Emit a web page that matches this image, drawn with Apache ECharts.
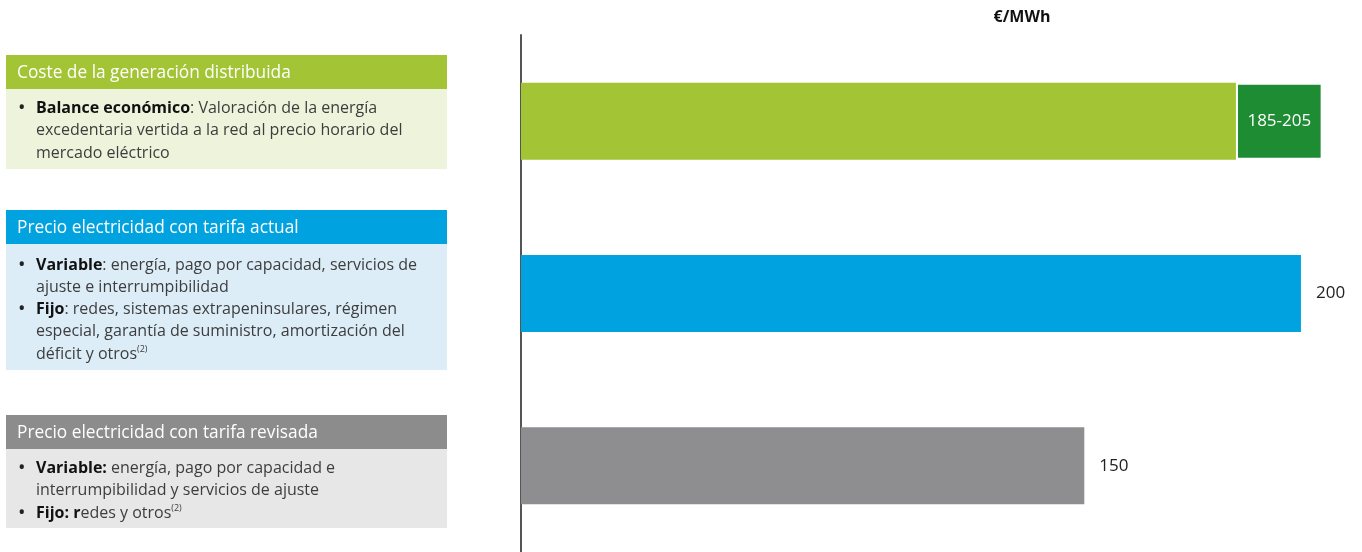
<!DOCTYPE html>
<html><head><meta charset="utf-8">
<script src="https://cdn.jsdelivr.net/npm/echarts@6/dist/echarts.min.js"></script>
<style>html,body{margin:0;padding:0;background:#fff}#c{width:1362px;height:552px}</style>
</head><body><div id="c"></div>
<script>
// ---- data ----
const categories = ['Coste de la generación distribuida', 'Precio electricidad con tarifa actual', 'Precio electricidad con tarifa revisada'];
const baseValues = [185, 200, 150];
const rangeValues = [20, '-', '-'];          // 185 -> 205 range extension
const valueLabels = ['185-205', '200', '150'];
const unitLabel = '€/MWh';
const panelLines = [
  [[true, '{b|Balance económico}: Valoración de la energía'], [false, 'excedentaria vertida a la red al precio horario del'], [false, 'mercado eléctrico']],
  [[true, '{b|Variable}: energía, pago por capacidad, servicios de'], [false, 'ajuste e interrumpibilidad'], [true, '{b|Fijo}: redes, sistemas extrapeninsulares, régimen'], [false, 'especial, garantía de suministro, amortización del'], [false, 'déficit y otros{s|(2)}']],
  [[true, '{b|Variable:} energía, pago por capacidad e'], [false, 'interrumpibilidad y servicios de ajuste'], [true, '{b|Fijo:} {b|r}edes y otros{s|(2)}']]
];

// ---- styles / layout ----
const FONT = '"Open Sans", "Noto Sans", sans-serif';
const barColors = ['#a3c535', '#00a3df', '#8e8e91'];
const rangeColor = '#1e8c33';
const headColors = ['#a3c535', '#00a3df', '#8c8c8c'];
const bodyColors = ['#eef3dc', '#dcedf8', '#e8e7e8'];
const panelGeom = [
  {top: 55, head: 34, bottom: 169, lineY: 108.5},
  {top: 210, head: 34, bottom: 370, lineY: 265},
  {top: 415, head: 34, bottom: 528, lineY: 468.5}
];
const LH = 22.3;
const BODY_FS = 16;
const HEAD_FS = 17.3;

const graphics = [];
panelGeom.forEach((g, i) => {
  graphics.push({type: 'rect', shape: {x: 6, y: g.top, width: 441, height: g.head}, style: {fill: headColors[i]}});
  graphics.push({type: 'rect', shape: {x: 6, y: g.top + g.head, width: 441, height: g.bottom - g.top - g.head}, style: {fill: bodyColors[i]}});
  graphics.push({type: 'text', x: 17, y: g.top + g.head / 2 + 1, style: {text: categories[i], fill: '#fff', fontSize: HEAD_FS, fontFamily: FONT, verticalAlign: 'middle'}});
  panelLines[i].forEach((ln, j) => {
    const y = g.lineY + j * LH;
    if (ln[0]) graphics.push({type: 'text', x: 18, y: y, style: {text: '•', fill: '#222', fontSize: 20, fontFamily: FONT, verticalAlign: 'middle'}});
    graphics.push({type: 'text', x: 36, y: y, style: {
      text: ln[1], fill: '#3d3d3d', fontSize: BODY_FS, fontFamily: FONT, verticalAlign: 'middle',
      rich: {
        b: {fontWeight: 'bold', fill: '#111', fontSize: BODY_FS, fontFamily: FONT},
        s: {fontSize: 9, fill: '#3d3d3d', fontFamily: FONT, verticalAlign: 'top', padding: [0, 0, 9, 0]}
      }}});
  });
});
graphics.push({type: 'text', x: 1022, y: 17, style: {text: unitLabel, fill: '#111', fontSize: 16, fontWeight: 'bold', fontFamily: FONT, align: 'center', verticalAlign: 'middle'}});

const chart = echarts.init(document.getElementById('c'), null, {renderer: 'canvas'});
chart.setOption({
  animation: false,
  grid: {left: 521, right: 17.7, top: 35, bottom: -2, containLabel: false},
  xAxis: {type: 'value', min: 20, max: 210, show: false},
  yAxis: {type: 'category', inverse: true, data: categories,
    axisLine: {show: true, lineStyle: {color: '#555', width: 2}},
    axisTick: {show: false}, axisLabel: {show: false}, splitLine: {show: false}},
  series: [
    {type: 'bar', stack: 'a', barWidth: 77,
      data: baseValues.map((v, i) => ({value: v, itemStyle: {color: barColors[i]},
        label: {show: rangeValues[i] === '-', position: 'right', distance: 15, formatter: valueLabels[i],
          color: '#222', fontSize: 17, fontFamily: FONT}}))},
    {type: 'bar', stack: 'a', barWidth: 77,
      itemStyle: {color: rangeColor, borderColor: '#fff', borderWidth: 2},
      label: {show: true, position: 'inside', color: '#fff', fontSize: 17, fontFamily: FONT,
        formatter: p => valueLabels[p.dataIndex]},
      data: rangeValues}
  ],
  graphic: graphics
});
</script></body></html>
